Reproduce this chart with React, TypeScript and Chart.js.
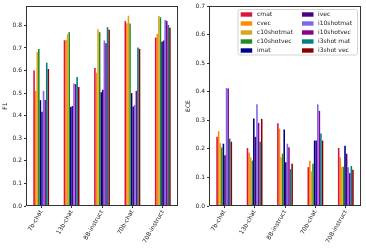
import React, { useEffect, useRef } from "react";
import { Chart, registerables } from "chart.js";

Chart.register(...registerables);

const categories = ["7b-chat", "13b-chat", "8B-instruct", "70b-chat", "70B-instruct"];
const seriesNames = ["cmat", "cvec", "c10shotmat", "c10shotvec", "imat", "ivec", "i10shotmat", "i10shotvec", "i3shot mat", "i3shot vec"];
const seriesColors = ["#DC143C", "#FF8C00", "#DAA520", "#228B22", "#00008B", "#4B0082", "#7B68EE", "#8B008B", "#008080", "#8B0000"];

const f1Cmat = [0.600, 0.734, 0.611, 0.819, 0.746];
const f1Cvec = [0.510, 0.735, 0.591, 0.810, 0.762];
const f1C10shotmat = [0.683, 0.761, 0.783, 0.843, 0.842];
const f1C10shotvec = [0.695, 0.770, 0.770, 0.808, 0.836];
const f1Imat = [0.469, 0.439, 0.504, 0.500, 0.728];
const f1Ivec = [0.417, 0.443, 0.515, 0.441, 0.733];
const f1I10shotmat = [0.510, 0.543, 0.733, 0.448, 0.824];
const f1I10shotvec = [0.470, 0.540, 0.721, 0.510, 0.820];
const f1I3shotmat = [0.635, 0.571, 0.792, 0.702, 0.802];
const f1I3shotvec = [0.607, 0.527, 0.781, 0.696, 0.790];

const eceCmat = [0.242, 0.203, 0.290, 0.136, 0.203];
const eceCvec = [0.262, 0.187, 0.271, 0.158, 0.170];
const eceC10shotmat = [0.220, 0.171, 0.171, 0.121, 0.137];
const eceC10shotvec = [0.205, 0.159, 0.183, 0.148, 0.137];
const eceImat = [0.218, 0.306, 0.268, 0.229, 0.211];
const eceIvec = [0.178, 0.242, 0.153, 0.229, 0.183];
const eceI10shotmat = [0.413, 0.356, 0.218, 0.356, 0.136];
const eceI10shotvec = [0.411, 0.291, 0.206, 0.333, 0.115];
const eceI3shotmat = [0.236, 0.225, 0.129, 0.254, 0.140];
const eceI3shotvec = [0.225, 0.305, 0.148, 0.229, 0.127];

const f1Series = [f1Cmat, f1Cvec, f1C10shotmat, f1C10shotvec, f1Imat, f1Ivec, f1I10shotmat, f1I10shotvec, f1I3shotmat, f1I3shotvec];
const eceSeries = [eceCmat, eceCvec, eceC10shotmat, eceC10shotvec, eceImat, eceIvec, eceI10shotmat, eceI10shotvec, eceI3shotmat, eceI3shotvec];

const f1Max = 0.886;
const eceMax = 0.7;

const FONT = "DejaVu Sans";
const TEXT = "#222";
const LINE = "#333";

const framePlugin = {
  id: "frame",
  afterDatasetsDraw(chart: any) {
    const { ctx, chartArea } = chart;
    ctx.save();
    ctx.strokeStyle = LINE;
    ctx.lineWidth = 1;
    const l = Math.round(chartArea.left) + 0.5;
    const t = Math.round(chartArea.top) + 0.5;
    const r = Math.round(chartArea.right) - 0.5;
    const b = Math.round(chartArea.bottom) - 0.5;
    ctx.strokeRect(l, t, r - l, b - t);
    ctx.restore();
  },
};

const legendPlugin = {
  id: "boxLegend",
  afterDraw(chart: any) {
    const { ctx } = chart;
    const ds = chart.data.datasets;
    const bx = 55, by = 9.5, bw = 119.5, bh = 45.5;
    ctx.save();
    ctx.beginPath();
    if (ctx.roundRect) ctx.roundRect(bx, by, bw, bh, 2);
    else ctx.rect(bx, by, bw, bh);
    ctx.fillStyle = "rgba(255,255,255,0.8)";
    ctx.fill();
    ctx.strokeStyle = "#d4d4d4";
    ctx.lineWidth = 1;
    ctx.stroke();
    ctx.font = `6px "${FONT}"`;
    ctx.textBaseline = "middle";
    ctx.textAlign = "left";
    const rows = 5;
    for (let i = 0; i < ds.length; i++) {
      const col = Math.floor(i / rows);
      const row = i % rows;
      const hx = col === 0 ? 57.7 : 119;
      const tx = col === 0 ? 74 : 135;
      const cy = 14.5 + row * 9;
      ctx.fillStyle = ds[i].backgroundColor;
      ctx.fillRect(hx, cy - 2.2, 11.5, 4.4);
      ctx.fillStyle = TEXT;
      ctx.fillText(ds[i].label, tx, cy + 0.3);
    }
    ctx.restore();
  },
};

function makeConfig(series: number[][], yMax: number, yTitle: string, withLegend: boolean): any {
  return {
    type: "bar",
    data: {
      labels: categories,
      datasets: seriesNames.map((name, i) => ({
        label: name,
        data: series[i],
        backgroundColor: seriesColors[i],
        borderWidth: 0,
        barPercentage: 1.0,
        categoryPercentage: 0.52,
      })),
    },
    options: {
      responsive: false,
      animation: false,
      devicePixelRatio: 1,
      layout: { padding: { top: 6, right: 5, left: 0, bottom: 0 } },
      plugins: { legend: { display: false }, tooltip: { enabled: false } },
      scales: {
        x: {
          type: "category",
          offset: true,
          grid: { display: true, drawOnChartArea: false, drawTicks: true, tickLength: 2, color: LINE, offset: false },
          border: { display: false },
          ticks: {
            color: TEXT,
            font: { family: FONT, size: 6 },
            maxRotation: 60,
            minRotation: 60,
            padding: 1,
            autoSkip: false,
          },
          afterFit: (scale: any) => { scale.height = 44; },
        },
        y: {
          type: "linear",
          min: 0,
          max: yMax,
          grid: { display: true, drawOnChartArea: false, drawTicks: true, tickLength: 2, color: LINE },
          border: { display: false },
          ticks: {
            stepSize: 0.1,
            includeBounds: false,
            color: TEXT,
            font: { family: FONT, size: 6 },
            padding: 2,
            callback: (v: any) => Number(v).toFixed(1),
          },
          title: {
            display: true,
            text: yTitle,
            color: TEXT,
            font: { family: FONT, size: 6 },
            padding: { top: 2, bottom: 0 },
          },
          afterFit: (scale: any) => { scale.width = 26; },
        },
      },
    },
    plugins: withLegend ? [framePlugin, legendPlugin] : [framePlugin],
  };
}

export default function App() {
  const leftRef = useRef<HTMLCanvasElement>(null);
  const rightRef = useRef<HTMLCanvasElement>(null);

  useEffect(() => {
    document.body.style.margin = "0";
    const c1 = new Chart(leftRef.current as HTMLCanvasElement, makeConfig(f1Series, f1Max, "F1", false));
    const c2 = new Chart(rightRef.current as HTMLCanvasElement, makeConfig(eceSeries, eceMax, "ECE", true));
    return () => {
      c1.destroy();
      c2.destroy();
    };
  }, []);

  return (
    <div style={{ position: "fixed", left: 0, top: 0, width: 366, height: 250, background: "#fff" }}>
      <canvas ref={leftRef} width={183} height={250} style={{ position: "absolute", left: 0, top: 0, width: 183, height: 250 }} />
      <canvas ref={rightRef} width={183} height={250} style={{ position: "absolute", left: 183, top: 0, width: 183, height: 250 }} />
    </div>
  );
}
